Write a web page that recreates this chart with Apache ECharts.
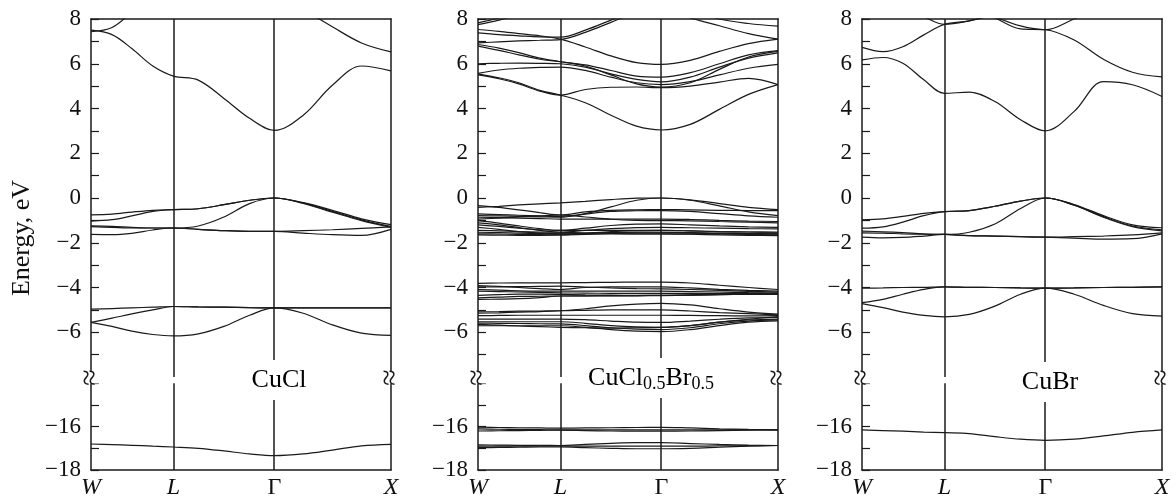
<!DOCTYPE html>
<html>
<head>
<meta charset="utf-8">
<script src="https://cdn.jsdelivr.net/npm/echarts@6.0.0/dist/echarts.min.js"></script>
<style>
html, body { margin: 0; padding: 0; background: #fff; }
#chart { width: 1176px; height: 504px; }
</style>
</head>
<body>
<div id="chart"></div>
<script>
// k path W - L - Gamma - X
var kPath = [0, 0.18, 0.35, 0.53, 0.707, 0.92, 1.14, 1.36, 1.573, 1.82, 2.07, 2.32, 2.573];
var kPoints = [0, 0.707, 1.573, 2.573];
var kNames = ['W', 'L', 'Γ', 'X'];
var upperTicks = [8, 6, 4, 2, 0, -2, -4, -6];
var lowerTicks = [-16, -18];
var panelNames = ['CuCl', 'CuCl0.5Br0.5', 'CuBr'];

// CuCl
var cuclCond = [
    [7.5, 7.3, 6.68, 5.9, 5.45, 5.27, 4.45, 3.56, 3.02, 3.7, 5.04, 5.9, 5.68],
    [7.43, 7.62, 8.3, 9.0, null, null, null, null, null, null, null, null, null],
    [null, null, null, null, null, null, null, 9.3, 8.9, 8.4, 7.65, 6.93, 6.53]
];
var cuclVal = [
    [-0.75, -0.72, -0.63, -0.55, -0.52, -0.48, -0.3, -0.1, 0, -0.21, -0.55, -0.93, -1.19],
    [-1.03, -0.97, -0.8, -0.6, -0.52, -0.48, -0.3, -0.1, 0, -0.22, -0.6, -0.98, -1.27],
    [-1.25, -1.27, -1.31, -1.34, -1.34, -1.25, -0.85, -0.25, 0, -0.24, -0.63, -1.01, -1.31],
    [-1.28, -1.31, -1.34, -1.34, -1.34, -1.4, -1.46, -1.49, -1.49, -1.46, -1.42, -1.36, -1.29],
    [-1.63, -1.64, -1.58, -1.43, -1.34, -1.4, -1.46, -1.49, -1.49, -1.57, -1.64, -1.67, -1.4]
];
var cuclP = [
    [-4.97, -4.94, -4.91, -4.88, -4.85, -4.87, -4.88, -4.9, -4.91, -4.91, -4.91, -4.91, -4.91],
    [-5.56, -5.37, -5.18, -5.0, -4.85, -4.87, -4.88, -4.9, -4.91, -4.91, -4.91, -4.91, -4.91],
    [-5.56, -5.74, -5.95, -6.1, -6.16, -6.07, -5.74, -5.24, -4.91, -5.15, -5.67, -6.04, -6.14]
];
var cuclCore = [
    [-16.8, -16.83, -16.86, -16.9, -16.94, -17.0, -17.12, -17.26, -17.34, -17.26, -17.08, -16.89, -16.82]
];

// CuCl0.5Br0.5
var mixCond = [
    [5.55, 5.37, 5.15, 4.81, 4.6, 4.26, 3.7, 3.21, 3.04, 3.29, 3.96, 4.63, 5.07],
    [5.5, 5.33, 5.1, 4.78, 4.6, 4.85, 4.95, 4.96, 4.93, 5.0, 5.18, 5.35, 5.07],
    [5.57, 5.72, 5.8, 5.84, 5.85, 5.7, 5.4, 5.15, 5.07, 5.2, 5.5, 5.8, 5.97],
    [6.0, 6.02, 6.03, 6.02, 6.0, 5.85, 5.55, 5.3, 5.19, 5.4, 5.85, 6.25, 6.49],
    [6.86, 6.7, 6.5, 6.25, 6.09, 5.95, 5.7, 5.45, 5.4, 5.6, 6.0, 6.4, 6.59],
    [6.79, 6.6, 6.4, 6.2, 6.09, 5.9, 5.5, 5.1, 4.96, 5.15, 5.75, 6.3, 6.55],
    [7.53, 7.45, 7.35, 7.25, 7.1, 6.75, 6.35, 6.05, 5.97, 6.15, 6.55, 6.9, 7.1],
    [6.93, 6.98, 7.02, 7.05, 7.08, 7.4, 7.85, 8.3, 8.6, 8.4, 8.0, 7.8, 7.68],
    [7.38, 7.3, 7.25, 7.2, 7.19, 7.5, 7.95, 8.4, 8.5, 8.05, 7.7, 7.35, 7.1],
    [7.75, 7.95, 8.2, 8.5, 8.8, null, null, null, null, null, null, null, null],
    [7.83, 8.05, 8.3, 8.6, null, null, null, null, null, null, null, null, null]
];
var mixVal = [
    [-0.42, -0.37, -0.31, -0.26, -0.22, -0.15, -0.07, -0.01, 0, -0.08, -0.25, -0.42, -0.52],
    [-0.34, -0.42, -0.53, -0.65, -0.76, -0.62, -0.55, -0.53, -0.52, -0.53, -0.55, -0.56, -0.56],
    [-0.71, -0.74, -0.77, -0.8, -0.82, -0.7, -0.4, -0.1, 0, -0.1, -0.35, -0.62, -0.79],
    [-0.79, -0.8, -0.82, -0.84, -0.86, -0.72, -0.6, -0.57, -0.56, -0.6, -0.7, -0.8, -0.86],
    [-0.86, -0.88, -0.9, -0.92, -0.94, -0.94, -0.94, -0.94, -0.94, -0.96, -1.0, -1.03, -1.05],
    [-0.94, -0.9, -0.85, -0.8, -0.76, -0.85, -0.95, -1.0, -1.01, -1.02, -1.05, -1.08, -1.11],
    [-1.01, -1.12, -1.25, -1.37, -1.45, -1.35, -1.23, -1.17, -1.16, -1.2, -1.25, -1.29, -1.31],
    [-1.11, -1.2, -1.32, -1.45, -1.53, -1.45, -1.37, -1.32, -1.31, -1.33, -1.35, -1.37, -1.38],
    [-1.2, -1.27, -1.35, -1.42, -1.45, -1.45, -1.45, -1.45, -1.45, -1.47, -1.5, -1.52, -1.53],
    [-1.31, -1.4, -1.5, -1.56, -1.6, -1.58, -1.55, -1.53, -1.53, -1.55, -1.57, -1.59, -1.6],
    [-1.45, -1.47, -1.5, -1.52, -1.53, -1.56, -1.58, -1.6, -1.6, -1.62, -1.65, -1.67, -1.68],
    [-1.53, -1.55, -1.57, -1.59, -1.6, -1.58, -1.55, -1.53, -1.53, -1.56, -1.6, -1.63, -1.65],
    [-1.6, -1.61, -1.63, -1.64, -1.65, -1.63, -1.61, -1.6, -1.6, -1.6, -1.6, -1.6, -1.6],
    [-1.65, -1.66, -1.67, -1.67, -1.65, -1.58, -1.5, -1.46, -1.45, -1.47, -1.5, -1.52, -1.53]
];
var mixP = [
    [-3.82, -3.8, -3.79, -3.79, -3.79, -3.78, -3.77, -3.76, -3.76, -3.8, -3.9, -4.0, -4.09],
    [-3.91, -3.95, -4.0, -4.05, -4.09, -4.0, -3.97, -3.97, -3.97, -4.02, -4.08, -4.13, -4.16],
    [-3.97, -3.97, -3.96, -3.95, -3.94, -3.98, -4.02, -4.05, -4.06, -4.09, -4.13, -4.17, -4.21],
    [-4.09, -4.12, -4.15, -4.16, -4.16, -4.16, -4.16, -4.16, -4.16, -4.18, -4.2, -4.23, -4.26],
    [-4.16, -4.18, -4.2, -4.22, -4.24, -4.25, -4.26, -4.26, -4.26, -4.26, -4.26, -4.26, -4.26],
    [-4.35, -4.32, -4.3, -4.3, -4.31, -4.33, -4.34, -4.35, -4.35, -4.33, -4.31, -4.3, -4.31],
    [-4.46, -4.43, -4.4, -4.39, -4.38, -4.38, -4.38, -4.37, -4.36, -4.34, -4.32, -4.31, -4.31],
    [-4.53, -4.52, -4.5, -4.45, -4.38, -4.37, -4.36, -4.36, -4.35, -4.34, -4.32, -4.3, -4.26],
    [-5.09, -5.08, -5.06, -5.05, -5.04, -4.95, -4.82, -4.74, -4.71, -4.78, -4.95, -5.1, -5.19],
    [-5.15, -5.13, -5.1, -5.08, -5.04, -5.02, -5.0, -5.0, -5.0, -5.05, -5.12, -5.17, -5.22],
    [-5.26, -5.25, -5.24, -5.24, -5.24, -5.24, -5.24, -5.24, -5.24, -5.25, -5.26, -5.27, -5.26],
    [-5.41, -5.41, -5.41, -5.41, -5.41, -5.44, -5.5, -5.55, -5.56, -5.5, -5.42, -5.36, -5.34],
    [-5.53, -5.53, -5.53, -5.53, -5.53, -5.6, -5.7, -5.76, -5.78, -5.7, -5.55, -5.45, -5.41],
    [-5.59, -5.6, -5.61, -5.62, -5.63, -5.7, -5.8, -5.86, -5.88, -5.8, -5.62, -5.5, -5.45],
    [-5.71, -5.71, -5.71, -5.71, -5.71, -5.78, -5.88, -5.95, -5.97, -5.88, -5.7, -5.55, -5.49],
    [-5.65, -5.68, -5.72, -5.75, -5.78, -5.8, -5.82, -5.8, -5.78, -5.7, -5.55, -5.42, -5.3]
];
var mixCore = [
    [-16.02, -16.04, -16.05, -16.06, -16.07, -16.06, -16.05, -16.04, -16.03, -16.06, -16.1, -16.13, -16.15],
    [-16.1, -16.12, -16.13, -16.14, -16.15, -16.15, -16.15, -16.15, -16.15, -16.15, -16.15, -16.15, -16.15],
    [-16.2, -16.19, -16.18, -16.17, -16.16, -16.18, -16.2, -16.21, -16.21, -16.2, -16.18, -16.16, -16.15],
    [-16.84, -16.85, -16.86, -16.86, -16.87, -16.82, -16.77, -16.74, -16.74, -16.78, -16.82, -16.85, -16.87],
    [-16.9, -16.9, -16.9, -16.9, -16.9, -16.9, -16.9, -16.9, -16.9, -16.9, -16.89, -16.88, -16.87],
    [-16.97, -16.96, -16.95, -16.94, -16.94, -16.97, -17.0, -17.02, -17.02, -17.0, -16.95, -16.9, -16.87]
];

// CuBr
var cubrCond = [
    [6.17, 6.28, 6.02, 5.28, 4.68, 4.73, 4.31, 3.5, 3.0, 3.87, 5.2, 5.06, 4.54],
    [6.73, 6.54, 6.76, 7.29, 7.76, 7.92, 8.2, 8.5, null, null, null, null, null],
    [9.0, 8.8, 8.5, 8.1, 7.76, 7.92, 8.2, 8.5, null, null, null, null, null],
    [null, null, null, null, null, 8.5, 8.05, 7.56, 7.52, 7.06, 6.2, 5.62, 5.41],
    [null, null, null, null, null, null, 8.1, 7.69, 7.52, 8.0, 8.5, null, null]
];
var cubrVal = [
    [-0.98, -0.93, -0.82, -0.69, -0.61, -0.56, -0.37, -0.14, 0, -0.29, -0.79, -1.2, -1.33],
    [-1.35, -1.29, -1.08, -0.79, -0.61, -0.56, -0.37, -0.14, 0, -0.32, -0.83, -1.25, -1.42],
    [-1.48, -1.51, -1.55, -1.6, -1.63, -1.53, -1.16, -0.47, 0, -0.32, -0.86, -1.28, -1.47],
    [-1.56, -1.57, -1.6, -1.62, -1.63, -1.68, -1.7, -1.73, -1.75, -1.73, -1.7, -1.65, -1.56],
    [-1.75, -1.78, -1.76, -1.7, -1.63, -1.68, -1.7, -1.73, -1.75, -1.79, -1.84, -1.82, -1.6]
];
var cubrP = [
    [-4.03, -4.02, -4.0, -3.99, -3.97, -3.99, -4.0, -4.02, -4.03, -4.02, -4.0, -3.99, -3.97],
    [-4.68, -4.53, -4.3, -4.08, -3.97, -3.99, -4.0, -4.02, -4.03, -4.02, -4.0, -3.99, -3.97],
    [-4.72, -4.9, -5.1, -5.25, -5.31, -5.2, -4.83, -4.3, -4.03, -4.3, -4.8, -5.17, -5.28]
];
var cubrCore = [
    [-16.15, -16.18, -16.21, -16.25, -16.28, -16.32, -16.46, -16.58, -16.63, -16.58, -16.43, -16.26, -16.15]
];

var panelUpper = [cuclCond.concat(cuclVal, cuclP), mixCond.concat(mixVal, mixP), cubrCond.concat(cubrVal, cubrP)];
var panelLower = [cuclCore, mixCore, cubrCore];

var FONT = 'Liberation Serif';
var INK = '#1a1a1a';
var lefts = [91, 478, 862];
var W = 300, TOP = 19, UH = 358, LTOP = 383.3, LH = 86.7;

function fmtE(v) {
    v = Math.round(v);
    return v < 0 ? '\u2212' + (-v) : '' + v;
}

var myChart = echarts.init(document.getElementById('chart'));
var grid = [], xAxis = [], yAxis = [], series = [], graphic = [];

lefts.forEach(function (left, p) {
    [0, 1].forEach(function (part) {
        var g = p * 2 + part;
        var upper = part === 0;
        grid.push({left: left, width: W, top: upper ? TOP : LTOP, height: upper ? UH : LH});
        xAxis.push({
            type: 'value', gridIndex: g, min: 0, max: 2.573,
            position: upper ? 'top' : 'bottom',
            axisLine: {show: true, onZero: false, lineStyle: {color: INK, width: 1.5}},
            axisTick: {show: false},
            splitLine: {show: false},
            axisLabel: upper ? {show: false} : {
                show: true, customValues: kPoints, margin: 6,
                fontFamily: FONT, fontSize: 24, color: '#111',
                formatter: function (v) {
                    var n = kNames[kPoints.indexOf(v)];
                    return n === 'Γ' ? '{g|Γ}' : '{i|' + n + '}';
                },
                rich: {
                    i: {fontFamily: FONT, fontSize: 24, fontStyle: 'italic', color: '#111'},
                    g: {fontFamily: FONT, fontSize: 24, color: '#111'}
                }
            }
        });
        var ticks = upper ? upperTicks : lowerTicks;
        yAxis.push({
            type: 'value', gridIndex: g,
            min: upper ? -8 : -18, max: upper ? 8 : -14, interval: 1,
            axisLine: {show: true, onZero: false, lineStyle: {color: INK, width: 1.5}},
            axisTick: {show: true, inside: true, length: 8, lineStyle: {color: INK, width: 1.2}},
            splitLine: {show: false},
            axisLabel: {
                margin: 10, fontFamily: FONT, fontSize: 23, color: '#111',
                formatter: function (v) {
                    return ticks.indexOf(Math.round(v)) >= 0 ? fmtE(v) : '';
                }
            }
        });
        yAxis.push({
            type: 'value', gridIndex: g, position: 'right',
            min: upper ? -8 : -18, max: upper ? 8 : -14,
            axisLine: {show: true, onZero: false, lineStyle: {color: INK, width: 1.5}},
            axisTick: {show: false}, axisLabel: {show: false}, splitLine: {show: false}
        });
        var bands = upper ? panelUpper[p] : panelLower[p];
        bands.forEach(function (b, i) {
            var pts = [];
            kPath.forEach(function (k, j) {
                if (b[j] !== null) pts.push([k, b[j]]);
            });
            var s = {
                type: 'line', xAxisIndex: g, yAxisIndex: g * 2, data: pts,
                symbol: 'none', smooth: 0.35, silent: true, animation: false,
                lineStyle: {color: INK, width: 1.2}
            };
            if (i === 0) {
                s.markLine = {
                    silent: true, symbol: ['none', 'none'], label: {show: false},
                    lineStyle: {color: INK, width: 1.5, type: 'solid'},
                    data: [{xAxis: kPoints[1]}, {xAxis: kPoints[2]}]
                };
            }
            series.push(s);
        });
    });

    // axis break marks on the left and right frame
    [left, left + W].forEach(function (x) {
        graphic.push({
            type: 'rect', z: 100, shape: {x: x - 9, y: 371, width: 18, height: 12.5},
            style: {fill: '#fff'}
        });
        graphic.push({
            type: 'text', z: 101, x: x, y: 377.5, rotation: Math.PI / 2,
            style: {text: '≈', fontFamily: FONT, fontSize: 30, fill: INK, align: 'center', verticalAlign: 'middle'}
        });
    });
});

// panel labels
var labelPos = [[279, 380], [651, 378], [1050, 382]];
panelNames.forEach(function (name, p) {
    var txt = name === 'CuCl0.5Br0.5' ? '{n|CuCl}{s|0.5}{n|Br}{s|0.5}' : '{n|' + name + '}';
    graphic.push({
        type: 'text', z: 100, x: labelPos[p][0], y: labelPos[p][1],
        style: {
            text: txt, align: 'center', verticalAlign: 'middle',
            backgroundColor: '#fff', padding: [5, 2, 5, 2],
            rich: {
                n: {fontFamily: FONT, fontSize: 26, color: '#111', lineHeight: 30, verticalAlign: 'middle'},
                s: {fontFamily: FONT, fontSize: 18, color: '#111', lineHeight: 18, verticalAlign: 'bottom'}
            }
        }
    });
});

graphic.push({
    type: 'text', z: 100, x: 22, y: 238, rotation: Math.PI / 2,
    style: {text: 'Energy, eV', fontFamily: FONT, fontSize: 26, fill: '#111', align: 'center', verticalAlign: 'middle'}
});

option = {
    backgroundColor: '#fff',
    animation: false,
    textStyle: {fontFamily: FONT},
    grid: grid,
    xAxis: xAxis,
    yAxis: yAxis,
    series: series,
    graphic: graphic
};
myChart.setOption(option);
</script>
</body>
</html>
